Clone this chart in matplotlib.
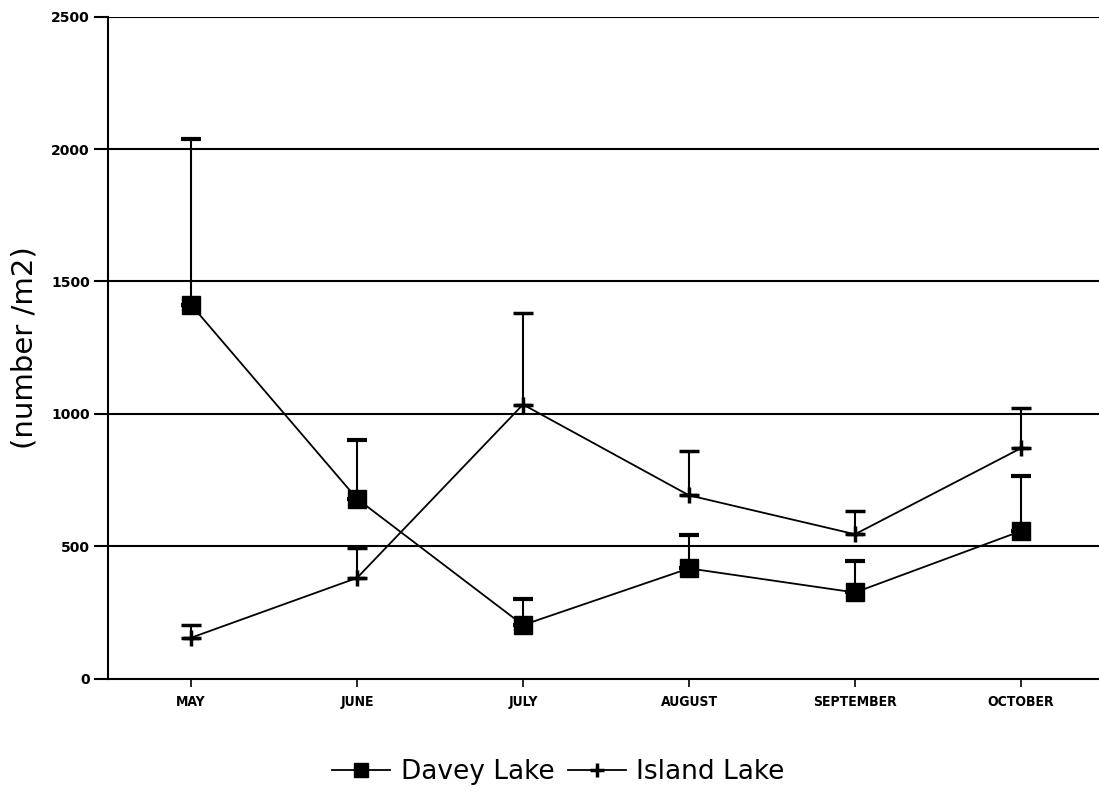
import numpy as np
import matplotlib
matplotlib.use('Agg')
import matplotlib.pyplot as plt

# months on the x axis
months = ['MAY', 'JUNE', 'JULY', 'AUGUST', 'SEPTEMBER', 'OCTOBER']

# mean density (number/m2) and upper error bar ends
davey_mean = [1412, 679, 202, 416, 325, 557]
davey_top = [2039, 902, 300, 544, 444, 766]
island_mean = [154, 380, 1035, 692, 545, 870]
island_top = [202, 493, 1380, 859, 632, 1020]

yticks = [0, 500, 1000, 1500, 2000, 2500]


def upper_err(mean, top):
    """Only the upward half of the error bar is drawn."""
    mean = np.array(mean)
    return [np.zeros(len(mean)), np.array(top) - mean]


fig = plt.figure(figsize=(10.99, 7.91), dpi=100)
ax = fig.add_axes([0.0983, 0.1422, 0.9017, 0.8367])

x = np.arange(len(months))

# horizontal grid lines
for y in yticks[1:]:
    ax.axhline(y, color='black', lw=1.5, zorder=1)

ax.errorbar(x, davey_mean, yerr=upper_err(davey_mean, davey_top),
            color='black', lw=1.3, marker='s', markersize=13,
            elinewidth=1.5, capsize=7, capthick=3, label='Davey Lake',
            zorder=3)
ax.errorbar(x, island_mean, yerr=upper_err(island_mean, island_top),
            color='black', lw=1.3, marker='+', markersize=12, mew=2.5,
            elinewidth=1.5, capsize=7, capthick=3, label='Island Lake',
            zorder=3)

ax.set_xlim(-0.5, 5.47)
ax.set_ylim(0, 2500)
ax.set_xticks(x)
ax.set_xticklabels(months, family='DejaVu Sans', fontstretch='condensed',
                   fontweight='bold', fontsize=10)
ax.set_yticks(yticks)
ax.set_yticklabels([str(v) for v in yticks], fontweight='bold', fontsize=10)
ax.tick_params(axis='y', direction='out', length=10, width=1.5, pad=3)
ax.tick_params(axis='x', direction='out', length=6, width=1.2, pad=6)

for side in ['top', 'right']:
    ax.spines[side].set_visible(False)
ax.spines['left'].set_linewidth(1.5)
ax.spines['bottom'].set_linewidth(1.5)

ax.set_ylabel('(number /m2)', fontsize=21)
ax.yaxis.set_label_coords(-0.07, 0.5)

# legend below the plot, one row, no frame
handles, labels = ax.get_legend_handles_labels()
handles = [h[0] for h in handles]
fig.legend(handles, labels, loc='center', bbox_to_anchor=(0.508, 0.024),
           ncol=2, frameon=False, fontsize=19, handlelength=2.2,
           handletextpad=0.4, columnspacing=0.5, markerscale=0.8)

fig.savefig('out.png', dpi=100)
